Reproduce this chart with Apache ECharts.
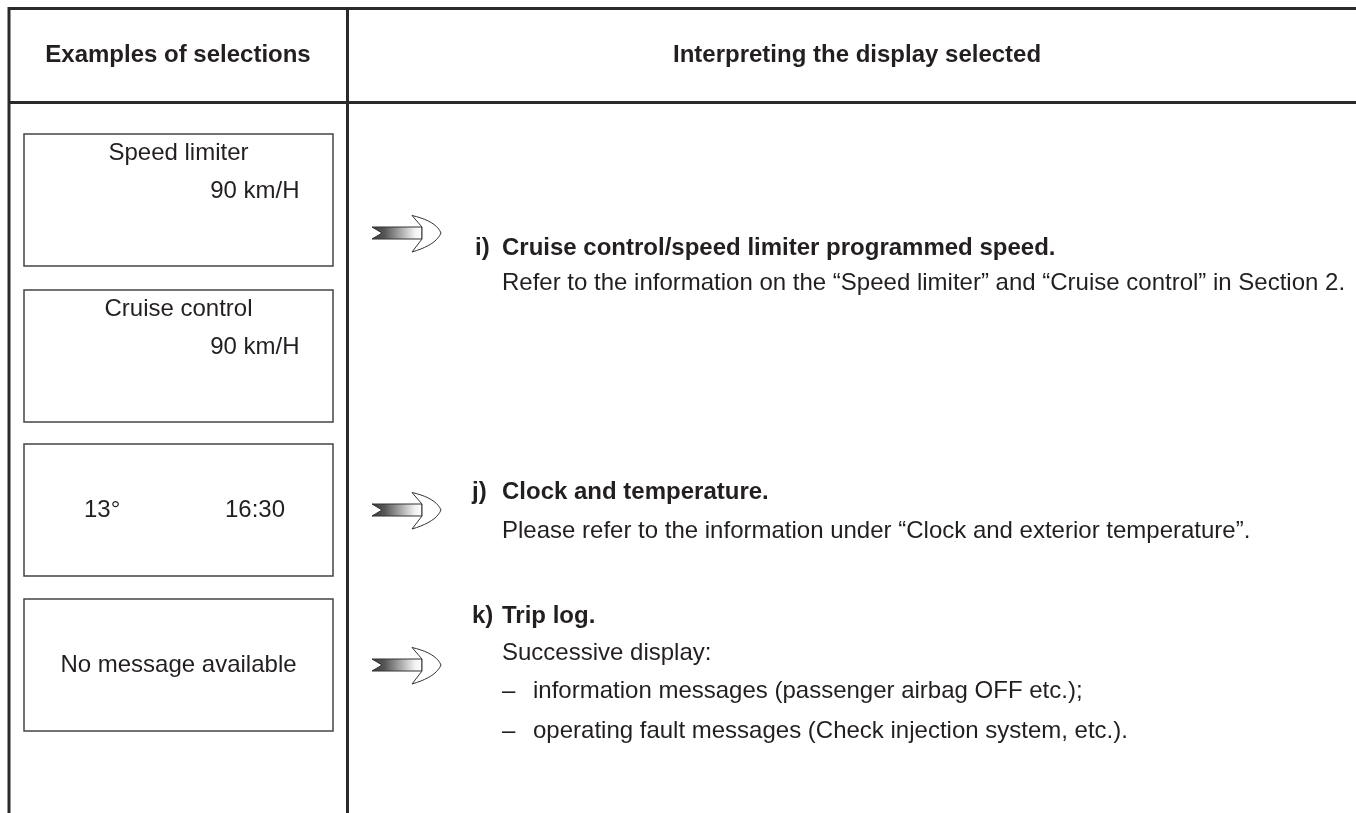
<!DOCTYPE html>
<html>
<head>
<meta charset="utf-8">
<script src="https://cdn.jsdelivr.net/npm/echarts@6/dist/echarts.min.js"></script>
<style>
html,body{margin:0;padding:0;background:#fff;}
#c{width:1356px;height:813px;}
</style>
</head>
<body>
<div id="c"></div>
<script>
// ---- content (texts only) ----
const headers = ['Examples of selections', 'Interpreting the display selected'];
const displayLines = [
  ['Speed limiter', '90 km/H'],
  ['Cruise control', '90 km/H'],
  ['13°', '16:30'],
  ['No message available']
];
const itemLabels = ['i)', 'j)', 'k)'];
const itemTitles = ['Cruise control/speed limiter programmed speed.', 'Clock and temperature.', 'Trip log.'];
const itemBodies = [
  'Refer to the information on the “Speed limiter” and “Cruise control” in Section 2.',
  'Please refer to the information under “Clock and exterior temperature”.',
  'Successive display:'
];
const tripLogBullets = [
  'information messages (passenger airbag OFF etc.);',
  'operating fault messages (Check injection system, etc.).'
];

// ---- layout ----
const INK = '#231f20';
const LINE = '#2a2a2a';
const FONT = '"Liberation Sans", Arial, Helvetica, sans-serif';
const FS = 24;
const boxTops = [134, 290, 444, 599];
const boxH = 132;
const boxL = 24, boxR = 333;
const arrowYs = [233, 510, 665];

const g = [];
function txt(s, x, y, opts) {
  opts = opts || {};
  g.push({
    type: 'text', silent: true, z: 10,
    style: {
      text: s, x: x, y: y,
      font: (opts.bold ? 'bold ' : '') + FS + 'px ' + FONT,
      fill: INK,
      textAlign: opts.align || 'left',
      textVerticalAlign: 'middle', verticalAlign: 'middle'
    }
  });
}
function ln(x1, y1, x2, y2, w, c) {
  g.push({ type: 'line', silent: true, z: 5, shape: { x1, y1, x2, y2 }, style: { stroke: c || LINE, lineWidth: w } });
}
function quad(p0, c, p1, n) {
  const pts = [];
  for (let i = 1; i <= n; i++) {
    const t = i / n, u = 1 - t;
    pts.push([u * u * p0[0] + 2 * u * t * c[0] + t * t * p1[0], u * u * p0[1] + 2 * u * t * c[1] + t * t * p1[1]]);
  }
  return pts;
}
function arrow(x0, cy) {
  // shaft with gradient
  g.push({
    type: 'polygon', silent: true, z: 6,
    shape: { points: [[x0, cy - 6], [x0 + 50, cy - 6], [x0 + 50, cy + 6], [x0, cy + 6], [x0 + 10, cy]] },
    style: {
      fill: { type: 'linear', x: 0, y: 0, x2: 1, y2: 0, colorStops: [
        { offset: 0, color: '#3a3a3a' }, { offset: 0.25, color: '#555' }, { offset: 0.85, color: '#f2f2f2' }, { offset: 1, color: '#fff' }] },
      stroke: '#333', lineWidth: 1
    }
  });
  // head
  const pts = [[x0 + 50, cy - 6], [x0 + 40, cy - 17.5]];
  quad([x0 + 40, cy - 17.5], [x0 + 64, cy - 12], [x0 + 69, cy], 10).forEach(p => pts.push(p));
  quad([x0 + 69, cy], [x0 + 64, cy + 12], [x0 + 40, cy + 19], 10).forEach(p => pts.push(p));
  pts.push([x0 + 50, cy + 6]);
  g.push({
    type: 'polygon', silent: true, z: 7,
    shape: { points: pts },
    style: { fill: '#fff', stroke: '#333', lineWidth: 1 }
  });
}

// table frame
ln(8, 8.5, 1356, 8.5, 3);
ln(8, 102.5, 1356, 102.5, 3);
ln(9, 7, 9, 813, 3);
ln(347.5, 7, 347.5, 813, 3);

// headers
txt(headers[0], 178, 55, { bold: true, align: 'center' });
txt(headers[1], 673, 55, { bold: true });

// display boxes
boxTops.forEach((t) => {
  g.push({ type: 'rect', silent: true, z: 5, shape: { x: boxL, y: t, width: boxR - boxL, height: boxH }, style: { fill: 'none', stroke: '#444', lineWidth: 1.5 } });
});
// box 1 & 2: title centered, value right
[0, 1].forEach(i => {
  txt(displayLines[i][0], 178.5, boxTops[i] + 19.6, { align: 'center' });
  txt(displayLines[i][1], 299.5, boxTops[i] + 57.7, { align: 'right' });
});
txt(displayLines[2][0], 84, boxTops[2] + 66.5);
txt(displayLines[2][1], 285, boxTops[2] + 66.5, { align: 'right' });
txt(displayLines[3][0], 178.5, boxTops[3] + 66, { align: 'center' });

// arrows
arrowYs.forEach(y => arrow(372, y));

// descriptions
const titleYs = [248.5, 492.5, 616];
const bodyYs = [283, 531, 653];
itemLabels.forEach((l, i) => {
  txt(l, i === 0 ? 475 : 472, titleYs[i], { bold: true });
  txt(itemTitles[i], 502, titleYs[i], { bold: true });
  txt(itemBodies[i], 502, bodyYs[i]);
});
const bulletYs = [691.5, 731.5];
tripLogBullets.forEach((b, i) => {
  txt('–', 502, bulletYs[i]);
  txt(b, 533, bulletYs[i]);
});

const chart = echarts.init(document.getElementById('c'), null, { renderer: 'canvas' });
chart.setOption({ backgroundColor: '#fff', animation: false, graphic: { elements: g } });
</script>
</body>
</html>
